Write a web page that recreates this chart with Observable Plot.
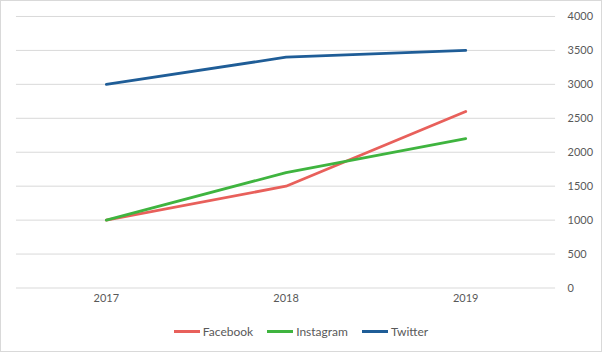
<!DOCTYPE html>
<html>
<head>
<meta charset="utf-8">
<script src="https://cdn.jsdelivr.net/npm/d3@7"></script>
<script src="https://cdn.jsdelivr.net/npm/@observablehq/plot@0.6"></script>
<style>
  html, body { margin: 0; padding: 0; background: #fff; }
  #wrap { position: relative; width: 602px; height: 352px; box-sizing: border-box; border: 1px solid #d9d9d9; overflow: hidden; font-family: Lato, "Open Sans", sans-serif; }
  #chart { position: absolute; left: -1px; top: -1px; }
  #legend { position: absolute; left: 0; top: 323px; width: 600px; display: flex; justify-content: center; gap: 0; font-size: 12px; color: #595959; }
  .item { display: flex; align-items: center; margin: 0 7px; }
  .sw { width: 26px; height: 3px; margin-right: 3px; }
</style>
</head>
<body>
<div id="wrap"><div id="chart"></div><div id="legend"></div></div>
<script>
const years = ["2017", "2018", "2019"];
const seriesNames = ["Facebook", "Instagram", "Twitter"];
const facebook = [1000, 1500, 2600];
const instagram = [1000, 1700, 2200];
const twitter = [3000, 3400, 3500];
const colors = ["#e8605b", "#3fb43f", "#1f5d97"];
const yTicks = [0, 500, 1000, 1500, 2000, 2500, 3000, 3500, 4000];

const values = [facebook, instagram, twitter];
const data = [];
seriesNames.forEach((s, i) => years.forEach((y, j) => data.push({series: s, year: y, value: values[i][j]})));

const chart = Plot.plot({
  width: 602,
  height: 316,
  marginTop: 16,
  marginBottom: 28,
  marginLeft: 16,
  marginRight: 46,
  style: {fontFamily: 'Lato, "Open Sans", sans-serif', fontSize: "11px", color: "#595959", background: "#fff"},
  x: {type: "point", domain: years, padding: 0.5},
  y: {domain: [0, 4000]},
  color: {domain: seriesNames, range: colors},
  marks: [
    Plot.gridY(yTicks, {stroke: "#d9d9d9", strokeOpacity: 1, strokeWidth: 1}),
    Plot.axisY(yTicks, {anchor: "right", tickSize: 0, tickPadding: 12, textAnchor: "start", label: null, fill: "#595959", tickFormat: d => String(d)}),
    Plot.axisX({tickSize: 0, tickPadding: 6, label: null, fill: "#595959"}),
    Plot.line(data, {x: "year", y: "value", z: "series", stroke: "series", strokeWidth: 2.8, strokeLinecap: "round", strokeLinejoin: "round"})
  ]
});
document.getElementById("chart").appendChild(chart);

const legend = document.getElementById("legend");
seriesNames.forEach((s, i) => {
  const it = document.createElement("div");
  it.className = "item";
  const sw = document.createElement("span");
  sw.className = "sw";
  sw.style.background = colors[i];
  const t = document.createElement("span");
  t.textContent = s;
  it.appendChild(sw); it.appendChild(t);
  legend.appendChild(it);
});
</script>
</body>
</html>
